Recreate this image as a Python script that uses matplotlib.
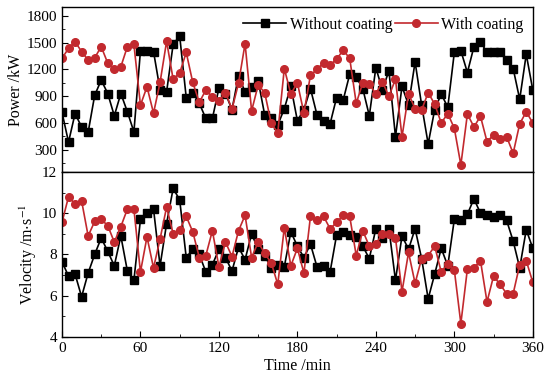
import numpy as np
import matplotlib
matplotlib.use('Agg')
import matplotlib.pyplot as plt
from matplotlib.ticker import MultipleLocator

plt.rcParams['font.family'] = ['Liberation Serif', 'DejaVu Serif']
plt.rcParams['mathtext.fontset'] = 'stix'

# ============================================================
# DATA (one sample every 5 min)
# ============================================================
time_min = np.arange(0, 365, 5)

power_without = [720, 385, 705, 555, 495, 910, 1080, 930, 680, 930,
                 725, 500, 1410, 1410, 1400, 970, 950, 1480, 1575, 885,
                 940, 820, 650, 650, 990, 930, 750, 1130, 945, 1000,
                 1075, 690, 650, 575, 760, 1010, 625, 750, 985, 690,
                 625, 590, 885, 855, 1145, 1115, 985, 680, 1220, 970,
                 1185, 445, 1010, 800, 1285, 800, 365, 750, 925, 775,
                 1390, 1410, 1165, 1455, 1510, 1390, 1390, 1390, 1305, 1210,
                 865, 1370, 970]

power_with = [1325, 1435, 1510, 1400, 1305, 1330, 1455, 1270, 1205, 1230,
              1455, 1480, 800, 1005, 710, 1055, 1515, 1090, 1160, 1390,
              1055, 830, 970, 890, 845, 940, 755, 1045, 1490, 735,
              1025, 940, 595, 490, 1210, 925, 1050, 710, 1135, 1200,
              1275, 1250, 1315, 1415, 1325, 820, 1050, 1035, 925, 1060,
              900, 1090, 445, 925, 760, 745, 940, 810, 600, 705,
              540, 130, 700, 555, 675, 390, 465, 415, 445, 260,
              590, 725, 600]

vel_without = [7.65, 6.95, 7.05, 5.95, 7.1, 8.0, 8.8, 8.15, 7.45, 8.9,
               7.2, 6.75, 9.7, 10.0, 10.2, 7.45, 9.5, 11.2, 10.65, 7.85,
               8.25, 8.0, 7.15, 7.5, 8.25, 7.85, 7.2, 8.35, 7.75, 9.0,
               8.25, 7.95, 7.35, 7.5, 7.4, 9.1, 8.4, 7.85, 8.5, 7.4,
               7.45, 7.15, 8.95, 9.1, 8.95, 8.85, 8.4, 7.8, 9.25, 8.8,
               9.25, 6.75, 8.9, 8.25, 9.25, 7.8, 5.85, 7.05, 8.3, 7.45,
               9.7, 9.65, 9.95, 10.7, 10.0, 9.9, 9.8, 9.9, 9.65, 8.65,
               7.35, 9.2, 8.3]

vel_with = [9.55, 10.8, 10.45, 10.6, 8.9, 9.6, 9.7, 9.4, 8.6, 9.35,
            10.2, 10.2, 7.15, 8.85, 7.35, 8.75, 10.3, 9.0, 9.2, 9.85,
            9.1, 7.85, 7.95, 9.15, 7.4, 8.6, 7.9, 9.15, 9.9, 7.85,
            8.6, 8.05, 7.6, 6.55, 9.3, 7.45, 8.3, 7.1, 9.85, 9.65,
            9.85, 9.25, 9.55, 9.9, 9.85, 7.95, 9.15, 8.4, 8.5, 9.0,
            9.0, 8.8, 6.2, 8.1, 6.6, 7.8, 7.95, 8.4, 7.15, 7.55,
            7.25, 4.65, 7.3, 7.35, 7.7, 5.7, 6.95, 6.55, 6.1, 6.1,
            7.5, 7.7, 6.65]

# ============================================================
# PLOT
# ============================================================
RED = '#C2292E'
fig = plt.figure(figsize=(5.5, 3.86), dpi=100)
ax1 = fig.add_axes([0.1127, 0.5544, 0.856, 0.4275])
ax2 = fig.add_axes([0.1127, 0.127, 0.856, 0.4275])

style = dict(lw=1.2, markersize=5.5)
ax1.plot(time_min, power_without, '-s', color='black', label='Without coating', **style)
ax1.plot(time_min, power_with, '-o', color=RED, label='With coating', **style)
ax2.plot(time_min, vel_without, '-s', color='black', **style)
ax2.plot(time_min, vel_with, '-o', color=RED, **style)

ax1.set_xlim(0, 360)
ax1.set_ylim(50, 1900)
ax1.set_yticks(np.arange(300, 1801, 300))
ax1.yaxis.set_minor_locator(MultipleLocator(150))
ax1.set_xticks([])
ax1.set_ylabel('Power /kW', fontsize=11.5, labelpad=2)

ax2.set_xlim(0, 360)
ax2.set_ylim(4, 12)
ax2.set_xticks(np.arange(0, 361, 60))
ax2.xaxis.set_minor_locator(MultipleLocator(30))
ax2.set_yticks(np.arange(4, 13, 2))
ax2.yaxis.set_minor_locator(MultipleLocator(1))
ax2.set_xlabel('Time /min', fontsize=11.5, labelpad=2)
ax2.set_ylabel('Velocity /m$\\cdot$s$^{-1}$', fontsize=11.5, labelpad=2)

for ax in (ax1, ax2):
    ax.tick_params(which='both', direction='in', labelsize=11)
    ax.tick_params(which='major', length=4)
    ax.tick_params(which='minor', length=2.5)
    for s in ax.spines.values():
        s.set_linewidth(1.0)

ax1.legend(loc='upper right', ncol=2, frameon=False, fontsize=11.5,
           handlelength=2.7, handletextpad=0.2, columnspacing=0.15,
           borderaxespad=0.2, bbox_to_anchor=(1.0, 1.0))

fig.savefig('out.png', dpi=100)
